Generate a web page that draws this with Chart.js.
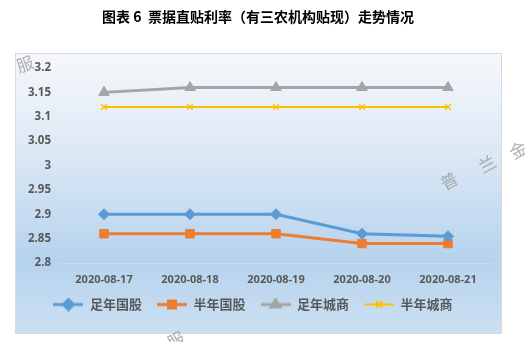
<!DOCTYPE html>
<html>
<head>
<meta charset="utf-8">
<script src="https://cdn.jsdelivr.net/npm/chart.js@4"></script>
<style>
    html, body { margin: 0; padding: 0; background: #fff; }
    #wrap { width: 525px; height: 342px; position: relative; }
</style>
</head>
<body>
<div id="wrap"><canvas id="rateChart" width="525" height="342"></canvas></div>
<script>
// Data
const dates = ['2020-08-17', '2020-08-18', '2020-08-19', '2020-08-20', '2020-08-21'];
const fullYearBig = [2.90, 2.90, 2.90, 2.86, 2.855];   // 足年国股
const halfYearBig = [2.86, 2.86, 2.86, 2.84, 2.84];    // 半年国股
const fullYearCity = [3.15, 3.16, 3.16, 3.16, 3.16];   // 足年城商
const halfYearCity = [3.12, 3.12, 3.12, 3.12, 3.12];   // 半年城商
const yTicks = [2.8, 2.85, 2.9, 2.95, 3, 3.05, 3.1, 3.15, 3.2];

const titleText = '图表 6  票据直贴利率（有三农机构贴现）走势情况';
const textColor = '#595959';
const fontFamily = "'Noto Sans CJK SC', 'Noto Sans', sans-serif";

// Legend swatch: short line with the marker in the middle
function legendIcon(color, style, radius, lineWidth) {
    const c = document.createElement('canvas');
    c.width = 30;
    c.height = 14;
    const ctx = c.getContext('2d');
    ctx.strokeStyle = color;
    ctx.fillStyle = color;
    ctx.lineWidth = lineWidth;
    ctx.beginPath();
    ctx.moveTo(0, 7);
    ctx.lineTo(30, 7);
    ctx.stroke();
    Chart.helpers.drawPoint(ctx, { pointStyle: style, radius: radius, borderWidth: 1.5, rotation: 0 }, 15, 7);
    if (style === 'crossRot') ctx.stroke(); else { ctx.fill(); }
    return c;
}

// Panel background, title and faint marks around the panel
const backdrop = {
    id: 'backdrop',
    beforeDraw(chart) {
        const ctx = chart.ctx;
        ctx.save();
        const g = ctx.createLinearGradient(0, 53, 0, 333);
        g.addColorStop(0, '#f5f8fc');
        g.addColorStop(0.3, '#e1ebf6');
        g.addColorStop(0.74, '#b6d3ed');
        g.addColorStop(1, '#cbdff2');
        ctx.fillStyle = g;
        ctx.fillRect(15.5, 53.5, 486, 280);
        ctx.strokeStyle = '#d9d9d9';
        ctx.lineWidth = 1;
        ctx.strokeRect(15.5, 53.5, 486, 280);

        ctx.fillStyle = '#000';
        ctx.font = "bold 14px " + fontFamily;
        ctx.textAlign = 'center';
        ctx.textBaseline = 'middle';
        ctx.fillText(titleText, 258, 17);
        ctx.restore();
    },
    afterDraw(chart) {
        const ctx = chart.ctx;
        const marks = [
            ['服', 25, 64, -0.35],
            ['普', 449, 181, -0.5],
            ['兰', 487, 164, -0.5],
            ['金', 518, 150, -0.5],
            ['服', 176, 340, -0.5]
        ];
        ctx.save();
        ctx.fillStyle = 'rgba(150,150,150,0.75)';
        ctx.font = "17px 'Noto Sans CJK SC', sans-serif";
        ctx.textAlign = 'center';
        ctx.textBaseline = 'middle';
        marks.forEach(([t, x, y, r]) => {
            ctx.save();
            ctx.translate(x, y);
            ctx.rotate(r);
            ctx.fillText(t, 0, 0);
            ctx.restore();
        });
        ctx.restore();
    }
};

function series(label, data, color, style, radius, width) {
    return {
        label: label,
        data: data,
        borderColor: color,
        backgroundColor: color,
        borderWidth: width,
        pointStyle: style,
        pointRadius: radius,
        pointHoverRadius: radius,
        pointBorderWidth: style === 'crossRot' ? 1.5 : 1,
        tension: 0,
        icon: legendIcon(color, style, Math.min(radius, 5), width)
    };
}

const ctx = document.getElementById('rateChart').getContext('2d');
new Chart(ctx, {
    type: 'line',
    data: {
        labels: dates,
        datasets: [
            series('足年国股', fullYearBig, '#5b9bd5', 'rectRot', 5.5, 3),
            series('半年国股', halfYearBig, '#ed7d31', 'rect', 6, 3),
            series('足年城商', fullYearCity, '#a5a5a5', 'triangle', 6, 3),
            series('半年城商', halfYearCity, '#ffc000', 'crossRot', 4, 2)
        ]
    },
    options: {
        responsive: false,
        animation: false,
        layout: { padding: { top: 68, left: 15, right: 34, bottom: 21 } },
        plugins: {
            title: { display: false },
            tooltip: { enabled: false },
            legend: {
                position: 'bottom',
                labels: {
                    usePointStyle: true,
                    pointStyleWidth: 30,
                    padding: 15,
                    color: textColor,
                    font: { family: fontFamily, size: 13, weight: 'bold' },
                    generateLabels(chart) {
                        return chart.data.datasets.map((ds, i) => ({
                            text: ds.label,
                            pointStyle: ds.icon,
                            fontColor: textColor,
                            lineWidth: 0,
                            datasetIndex: i
                        }));
                    }
                }
            }
        },
        scales: {
            x: {
                offset: true,
                grid: { display: false, drawTicks: false },
                border: { display: true, color: '#d9d9d9', width: 1 },
                ticks: {
                    padding: 10,
                    color: textColor,
                    font: { family: "'Open Sans', sans-serif", size: 11, weight: 'bold' },
                    maxRotation: 0
                },
                afterFit(scale) { scale.height = 20; }
            },
            y: {
                min: 2.8,
                max: 3.2,
                afterBuildTicks(scale) { scale.ticks = yTicks.map(v => ({ value: v })); },
                grid: { display: false, drawTicks: false },
                border: { display: false },
                ticks: {
                    padding: 10,
                    color: textColor,
                    font: { family: "'Open Sans', sans-serif", size: 11.5, weight: 'bold' },
                    callback: v => String(+v.toFixed(2))
                },
                afterFit(scale) { scale.width = 46; }
            }
        }
    },
    plugins: [backdrop]
});
</script>
</body>
</html>
